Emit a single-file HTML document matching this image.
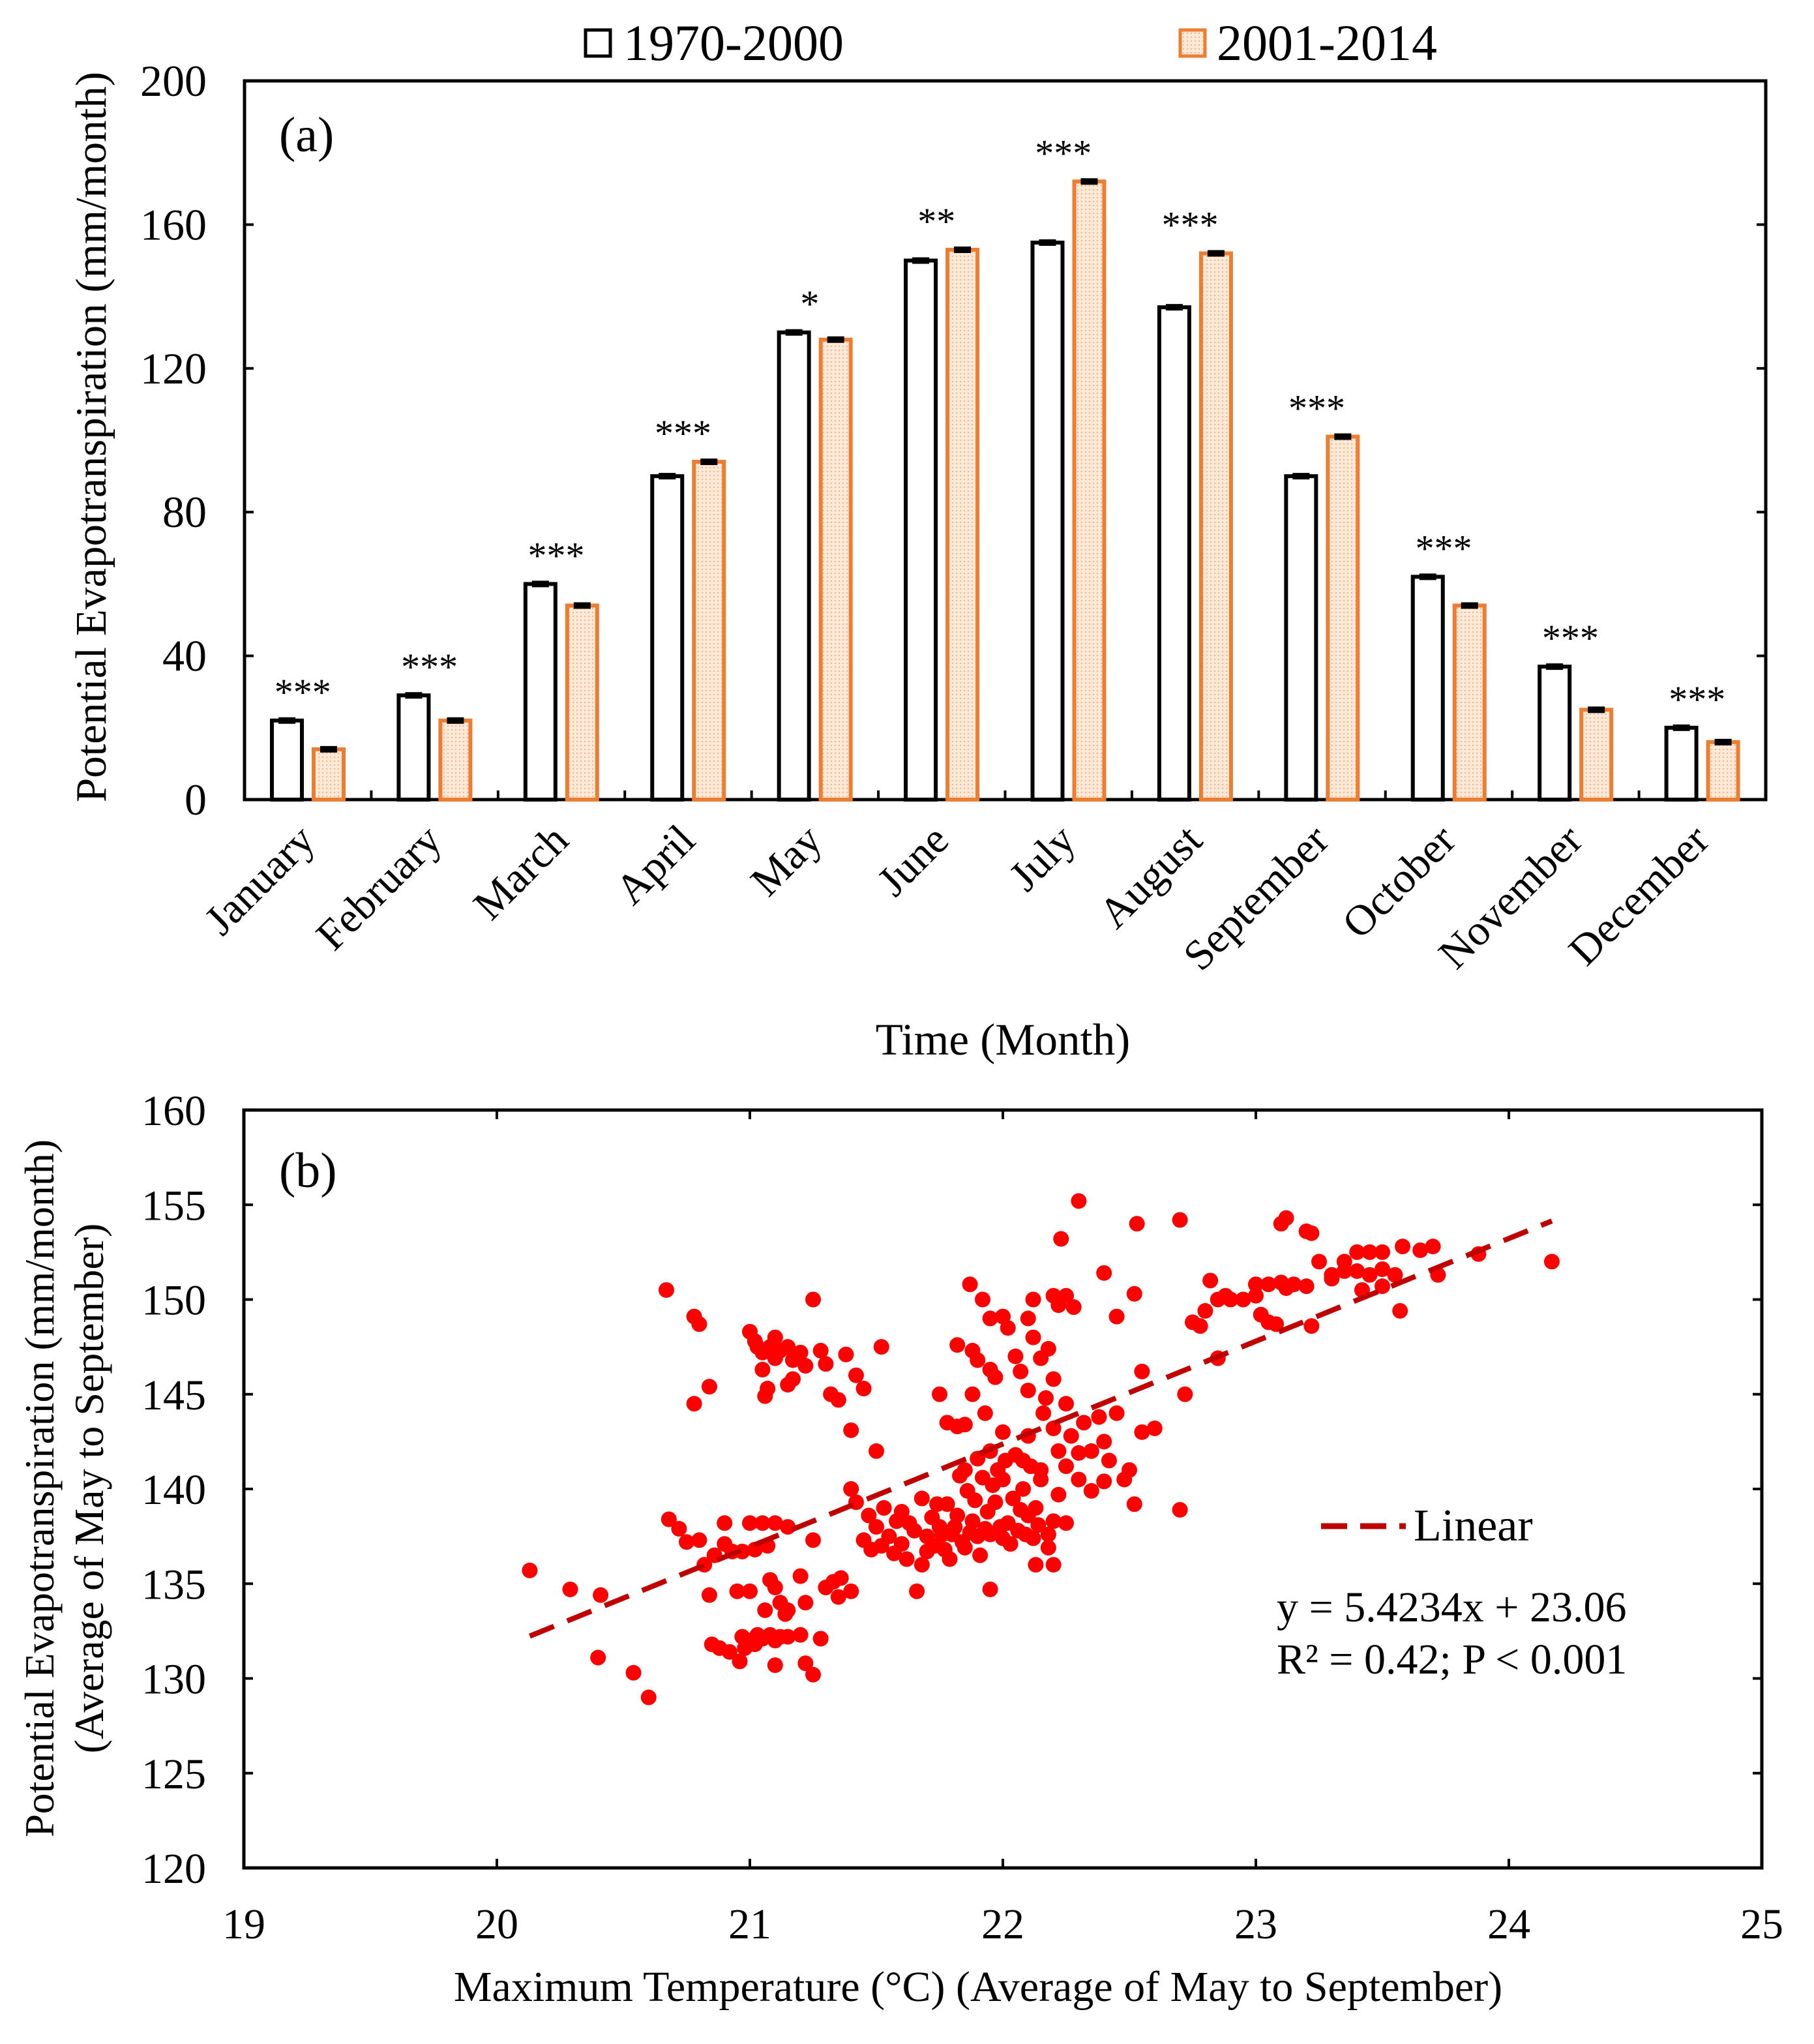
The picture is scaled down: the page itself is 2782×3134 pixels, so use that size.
<!DOCTYPE html>
<html><head><meta charset="utf-8">
<style>
html,body{margin:0;padding:0;background:#fff;}
svg{display:block;font-family:"Liberation Serif","Times New Roman",serif;}
</style></head>
<body>
<svg id="fig" width="2782" height="3134" viewBox="0 0 2782 3134" xmlns="http://www.w3.org/2000/svg">
<defs>
<pattern id="dots" width="6" height="6" patternUnits="userSpaceOnUse">
<rect width="6" height="6" fill="#fde9d6"/><circle cx="3" cy="3" r="1.2" fill="#e8b894"/>
</pattern>
</defs>
<g id="pa"></g>
<g id="pb"></g>
</svg>
<script>
// ---- Panel (a) data ----
const months = ["January","February","March","April","May","June","July","August","September","October","November","December"];
const pet7000 = [22,29,60,90,130,150,155,137,90,62,37,20];
const pet0114 = [14,22,54,94,128,153,172,152,101,54,25,16];
const sigStars = ["***","***","***","***","*","**","***","***","***","***","***","***"];
const yTicksA = [0,40,80,120,160,200];

// ---- Panel (b) data ----
const tmaxX = [20.13,20.29,20.41,20.40,20.54,20.60,20.67,20.78,20.80,20.78,20.84,20.68,
20.85,20.88,20.92,20.96,20.98,21.0,21.03,21.05,21.08,21.1,21.12,21.15,21.2,21.22,21.25,21.28,21.1,20.97,21.02,
21.08,21.1,21.12,21.14,21.15,21.06,21.2,21.22,21.25,21.3,21.33,21.35,21.36,21.4,
21.0,20.97,20.93,20.9,20.86,20.82,20.8,20.75,20.72,20.9,21.0,21.05,21.1,21.15,21.07,21.02,20.95,20.84,
21.0,21.02,21.05,21.08,21.1,21.12,21.15,21.17,21.2,21.05,21.07,21.06,21.15,21.17,21.25,21.28,21.3,21.32,21.38,21.42,21.45,21.52,21.35,21.4,21.5,21.22,21.1,21.03,
21.4,21.42,21.45,21.48,21.5,21.52,21.55,21.57,21.6,21.62,21.63,21.65,21.66,21.68,21.7,21.72,21.73,21.75,21.77,21.78,21.8,21.82,21.84,21.86,21.88,21.9,21.92,21.94,21.95,21.97,21.98,22.0,22.02,22.04,22.06,22.08,22.1,22.12,22.13,22.15,22.18,22.2,22.22,22.25,21.68,21.74,21.79,21.83,21.87,21.91,21.96,22.01,22.07,22.11,21.58,21.53,21.47,21.6,21.7,21.76,21.81,21.85,21.89,21.93,21.99,22.03,22.09,22.14,21.95,22.13,22.2,22.18,
21.82,21.85,21.88,21.9,21.93,21.95,21.97,22.0,22.02,22.05,22.07,22.1,22.12,22.15,22.17,22.2,22.22,22.25,22.27,22.3,22.32,22.35,22.38,22.4,22.42,22.45,22.48,22.5,21.87,21.92,21.95,22.0,22.1,22.12,22.2,22.25,22.22,22.28,22.23,22.3,22.4,22.45,22.53,22.52,22.7,22.05,22.1,22.15,22.2,22.25,22.3,22.35,22.4,22.52,22.55,22.6,22.55,22.7,22.72,21.95,21.9,21.85,22.0,22.08,21.78,21.82,21.88,21.75,22.18,22.16,
22.75,22.8,22.82,22.85,22.88,22.9,22.95,23.0,23.02,23.05,23.05,23.1,23.12,23.15,23.2,23.22,23.25,23.1,23.12,23.2,23.22,23.3,23.35,23.4,23.45,23.5,23.4,23.45,23.5,23.55,23.42,23.5,23.58,23.65,23.7,23.72,23.57,23.88,24.17,22.85,22.78,23.0,23.08,23.3,23.35];
const petY = [135.7,134.7,134.4,131.1,130.3,129.0,150.5,149.1,148.7,144.5,145.4,138.4,
131.8,131.6,131.4,130.9,131.6,132.0,132.3,132.1,132.3,132.0,132.2,132.2,132.3,130.8,130.2,132.1,130.7,132.2,131.8,
135.2,134.8,134.0,133.4,133.6,133.6,135.4,134.0,137.3,134.8,135.1,134.3,135.3,134.6,
134.6,136.7,136.7,137.1,136.5,136.0,137.3,137.2,137.9,138.2,138.2,138.2,138.2,138.0,137.0,136.8,134.6,134.4,
148.3,147.8,147.2,147.5,148.0,147.3,147.5,146.8,147.2,146.3,145.3,144.9,145.5,145.8,150.0,147.3,146.6,145.0,147.1,146.0,145.3,147.5,144.7,143.1,142.0,146.5,146.9,147.5,
140.0,139.3,137.3,136.8,138.0,137.0,137.5,136.6,137.1,136.3,138.2,137.8,134.6,136.0,137.5,138.5,137.0,138.0,136.8,139.2,137.6,138.6,137.2,139.9,138.3,137.5,140.6,138.8,137.6,139.3,141.0,137.4,138.2,139.5,137.8,140.0,138.6,137.4,139.0,140.5,136.9,138.3,139.7,138.2,139.5,139.2,136.3,140.7,137.7,136.5,140.2,141.5,138.9,141.2,138.3,139.0,138.6,138.8,136.7,137.6,138.0,136.9,139.4,137.9,138.0,137.1,137.6,138.1,134.7,136.0,136.0,137.6,
143.3,143.4,145.0,146.8,144.0,146.3,145.9,143.0,148.5,147.0,146.2,145.2,148.0,146.9,144.8,145.8,142.0,144.5,142.8,141.9,143.5,142.0,143.8,142.5,141.5,144.0,140.5,141.0,150.8,150.0,149.0,149.1,149.0,150.0,150.2,150.2,149.7,149.6,153.2,155.2,151.4,149.1,154.0,150.3,154.2,141.8,142.8,141.0,143.2,141.2,140.5,139.9,140.4,139.2,143.0,143.2,146.2,138.9,145.0,142.0,141.6,141.0,140.5,141.5,143.5,147.6,147.3,145.0,147.4,144.0,
148.8,149.4,151.0,150.0,150.2,150.0,150.0,150.8,149.2,148.8,150.8,150.9,150.6,150.8,150.7,148.6,152.0,154.0,154.3,153.6,153.5,151.1,151.5,152.5,152.5,152.5,151.5,151.3,151.6,151.3,150.5,150.7,152.8,152.6,152.8,151.3,149.4,152.4,152.0,146.9,148.6,150.2,148.7,151.3,152.0];
const fitSlope = 5.4234, fitIntercept = 23.06, fitRange = [20.13, 24.17];
const xTicksB = [19,20,21,22,23,24,25];
const yTicksB = [120,125,130,135,140,145,150,155,160];

const NS = "http://www.w3.org/2000/svg";
function mk(parent, tag, attrs, text){
  const e = document.createElementNS(NS, tag);
  for (const k in attrs) e.setAttribute(k, attrs[k]);
  if (text !== undefined) e.textContent = text;
  parent.appendChild(e);
  return e;
}

// ================= Panel A =================
const pa = document.getElementById('pa');
const A = {l:375, r:2708, t:124, b:1226, ymin:0, ymax:200};
const yA = v => A.b - (v - A.ymin) / (A.ymax - A.ymin) * (A.b - A.t);
const gw = (A.r - A.l) / months.length;
const gx = i => A.l + gw * i;

let e;
e = mk(pa,'rect',{x:A.l,y:A.t,width:A.r-A.l,height:A.b-A.t,fill:'none',stroke:'#000','stroke-width':5});



yTicksA.forEach(v=>{
  const y = yA(v);
  const t1 = mk(pa,'line',{x1:A.l,x2:A.l+14,y1:y,y2:y,stroke:'#000','stroke-width':4});
  
  
  const t2 = mk(pa,'line',{x1:A.r-14,x2:A.r,y1:y,y2:y,stroke:'#000','stroke-width':4});
  
  
  const lb = mk(pa,'text',{x:A.l-58,y:y+23,'text-anchor':'end','font-size':68,fill:'#000'},String(v));
  
  
});

months.forEach((m,i)=>{
  const x0 = gx(i);
  if (i>0){
    const tk = mk(pa,'line',{x1:x0,x2:x0,y1:A.b,y2:A.b-14,stroke:'#000','stroke-width':4});
    
    
  }
  const bw = 46;
  const bx1 = x0 + 42, bx2 = x0 + 106;
  const v1 = pet7000[i], v2 = pet0114[i];
  const b1 = mk(pa,'rect',{x:bx1,y:yA(v1),width:bw,height:A.b-yA(v1),fill:'#fff',stroke:'#000','stroke-width':6});
  
  
  const b2 = mk(pa,'rect',{x:bx2,y:yA(v2),width:bw,height:A.b-yA(v2),fill:'url(#dots)',stroke:'#ed7d31','stroke-width':6});
  
  
  const c1 = mk(pa,'rect',{x:bx1+10,y:yA(v1)-5,width:26,height:10,fill:'#000'});
  
  
  const c2 = mk(pa,'rect',{x:bx2+10,y:yA(v2)-5,width:26,height:10,fill:'#000'});
  
  
  const cx = x0 + gw/2;
  const st = mk(pa,'text',{x:cx-8,y:yA(Math.max(v1,v2))-24,'text-anchor':'middle','font-size':58,fill:'#000'},sigStars[i]);
  
  
  const lab = mk(pa,'text',{x:cx+14,y:A.b+66,'text-anchor':'end','font-size':66,fill:'#000',transform:`rotate(-45 ${cx+14} ${A.b+66})`},m);
  
  
});

e = mk(pa,'text',{x:428,y:232,'font-size':76,fill:'#000'},'(a)');


e = mk(pa,'text',{x:0,y:0,'text-anchor':'middle','font-size':67,fill:'#000',transform:'translate(162,670) rotate(-90)'},'Potential Evapotranspiration (mm/month)');


e = mk(pa,'text',{x:1538,y:1617,'text-anchor':'middle','font-size':69,fill:'#000'},'Time (Month)');



e = mk(pa,'rect',{x:898,y:46,width:38,height:40,fill:'#fff',stroke:'#000','stroke-width':5});


e = mk(pa,'text',{x:956,y:92,'font-size':78,fill:'#000'},'1970-2000');


e = mk(pa,'rect',{x:1810,y:46,width:38,height:40,fill:'url(#dots)',stroke:'#ed7d31','stroke-width':5});


e = mk(pa,'text',{x:1866,y:92,'font-size':78,fill:'#000'},'2001-2014');



// ================= Panel B =================
const pb = document.getElementById('pb');
const B = {l:374, r:2702, t:1702, b:2864, xmin:19, xmax:25, ymin:120, ymax:160};
const xB = v => B.l + (v - B.xmin)/(B.xmax - B.xmin)*(B.r - B.l);
const yB = v => B.b - (v - B.ymin)/(B.ymax - B.ymin)*(B.b - B.t);

e = mk(pb,'rect',{x:B.l,y:B.t,width:B.r-B.l,height:B.b-B.t,fill:'none',stroke:'#000','stroke-width':5});



yTicksB.forEach(v=>{
  const y = yB(v);
  const t1 = mk(pb,'line',{x1:B.l,x2:B.l+14,y1:y,y2:y,stroke:'#000','stroke-width':4});
  
  
  const t2 = mk(pb,'line',{x1:B.r-14,x2:B.r,y1:y,y2:y,stroke:'#000','stroke-width':4});
  
  
  const lb = mk(pb,'text',{x:B.l-58,y:y+23,'text-anchor':'end','font-size':66,fill:'#000'},String(v));
  
  
});
xTicksB.forEach(v=>{
  const x = xB(v);
  const t1 = mk(pb,'line',{x1:x,x2:x,y1:B.b,y2:B.b-14,stroke:'#000','stroke-width':4});
  
  
  const t2 = mk(pb,'line',{x1:x,x2:x,y1:B.t,y2:B.t+14,stroke:'#000','stroke-width':4});
  
  
  const lb = mk(pb,'text',{x:x,y:B.b+108,'text-anchor':'middle','font-size':66,fill:'#000'},String(v));
  
  
});

tmaxX.forEach((xv,i)=>{
  const p = mk(pb,'circle',{cx:xB(xv),cy:yB(petY[i]),r:12,fill:'#ff0000'});
  
  
});

e = mk(pb,'line',{x1:xB(fitRange[0]),y1:yB(fitSlope*fitRange[0]+fitIntercept),x2:xB(fitRange[1]),y2:yB(fitSlope*fitRange[1]+fitIntercept),stroke:'#c00000','stroke-width':8,'stroke-dasharray':'40 22'});



e = mk(pb,'text',{x:428,y:1820,'font-size':76,fill:'#000'},'(b)');


e = mk(pb,'line',{x1:2026,x2:2156,y1:2340,y2:2340,stroke:'#c00000','stroke-width':9,'stroke-dasharray':'40 20'});


e = mk(pb,'text',{x:2168,y:2362,'font-size':70,fill:'#000'},'Linear');


e = mk(pb,'text',{x:1958,y:2486,'font-size':66,fill:'#000'},'y = 5.4234x  + 23.06');


e = mk(pb,'text',{x:1958,y:2566,'font-size':66,fill:'#000'},'R² = 0.42;  P < 0.001');



e = mk(pb,'text',{x:0,y:0,'text-anchor':'middle','font-size':64,fill:'#000',transform:'translate(82,2282) rotate(-90)'},'Potential Evapotranspiration (mm/month)');


e = mk(pb,'text',{x:0,y:0,'text-anchor':'middle','font-size':64,fill:'#000',transform:'translate(158,2282) rotate(-90)'},'(Average of May to September)');


e = mk(pb,'text',{x:1500,y:3068,'text-anchor':'middle','font-size':66,fill:'#000'},'Maximum  Temperature (°C) (Average of May  to September)');


</script>
</body></html>
